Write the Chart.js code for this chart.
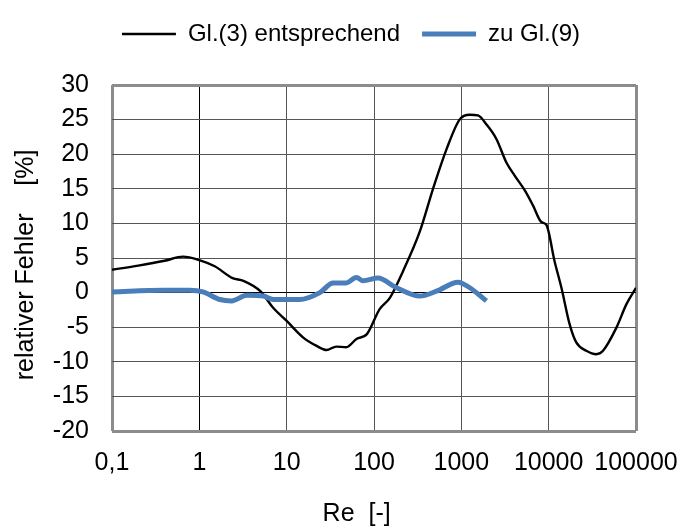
<!DOCTYPE html>
<html>
<head>
<meta charset="utf-8">
<script src="https://cdn.jsdelivr.net/npm/chart.js@4/dist/chart.umd.min.js"></script>
<style>
  body { margin: 0; background: #fff; }
  #wrap { width: 681px; height: 530px; }
</style>
</head>
<body>
<div id="wrap"><canvas id="myChart" width="681" height="530"></canvas></div>
<script>
// Re-Werte und relativer Fehler
const reGl3 = [0.1, 0.2, 0.4, 0.65, 1, 1.5, 2.4, 3.2, 5, 7, 10, 15.5, 22, 28.6, 37, 48, 63, 83, 116, 152, 215, 334, 474, 676, 955, 1250, 1550, 1940, 2520, 3280, 4080, 5310, 6610, 8240, 9400, 11700, 14000, 17400, 20700, 27000, 35100, 41900, 59500, 77500, 100000];
const fehlerGl3 = [3.3, 3.9, 4.6, 5.2, 4.7, 3.8, 2.1, 1.7, 0.2, -2.2, -4.1, -6.5, -7.7, -8.3, -7.8, -7.9, -6.7, -6.0, -2.4, -0.75, 3.1, 8.8, 15.0, 20.7, 25.0, 25.7, 25.6, 24.3, 22.2, 18.8, 16.9, 14.8, 12.6, 10.2, 9.8, 4.5, 0.7, -4.6, -7.2, -8.4, -8.9, -8.4, -5.1, -1.7, 0.7];

const reGl9 = [0.1, 0.39, 0.78, 1.1, 1.72, 2.34, 3.5, 5.4, 7, 10, 14, 24, 34, 48, 63, 75, 111, 181, 334, 519, 916, 1250, 1940];
const fehlerGl9 = [0.1, 0.35, 0.35, 0.1, -1.0, -1.2, -0.4, -0.5, -1.0, -1.0, -1.0, 0, 1.4, 1.4, 2.2, 1.7, 2.1, 0.7, -0.5, 0.2, 1.5, 0.7, -1.2];

const xTicks = [0.1, 1, 10, 100, 1000, 10000, 100000];
const xTickLabels = ['0,1', '1', '10', '100', '1000', '10000', '100000'];
const yMin = -20, yMax = 30, yStep = 5;

const toPoints = (xs, ys) => xs.map((x, i) => ({ x: x, y: ys[i] }));

const gridGrey = '#555555';
const borderGrey = '#8c8c8c';
const schrift = { family: '"Liberation Sans", Arial, sans-serif', size: 25 };

// Legende etwas nach rechts, mehr Abstand zum Diagramm
const legendeVersatz = {
    id: 'legendeVersatz',
    beforeInit: (chart) => {
        const lg = chart.legend;
        if (!lg) return;
        const fit = lg.fit;
        lg.fit = function () {
            fit.call(this);
            this.height += 29;
        };
    },
    afterLayout: (chart) => {
        if (!chart.legend) return;
        chart.legend.left += 33;
        chart.legend.right += 33;
    }
};

const ctx = document.getElementById('myChart').getContext('2d');

const myChart = new Chart(ctx, {
    type: 'line',
    data: {
        datasets: [{
            label: 'Gl.(3) entsprechend',
            data: toPoints(reGl3, fehlerGl3),
            borderColor: '#000000',
            backgroundColor: '#000000',
            borderWidth: 2.4,
            pointRadius: 0,
            cubicInterpolationMode: 'monotone',
            order: 2
        }, {
            label: 'zu Gl.(9)',
            data: toPoints(reGl9, fehlerGl9),
            borderColor: '#4a7ebb',
            backgroundColor: '#4a7ebb',
            borderWidth: 5,
            pointRadius: 0,
            cubicInterpolationMode: 'monotone',
            order: 1
        }]
    },
    plugins: [legendeVersatz],
    options: {
        responsive: false,
        animation: false,
        layout: { padding: { top: 0, right: 45, bottom: 0, left: 0 } },
        plugins: {
            tooltip: { enabled: false },
            legend: {
                position: 'top',
                labels: {
                    usePointStyle: true,
                    pointStyle: 'line',
                    pointStyleWidth: 54,
                    color: '#000',
                    padding: 22,
                    font: { family: schrift.family, size: 24 },
                    sort: (a, b) => a.datasetIndex - b.datasetIndex
                }
            }
        },
        scales: {
            x: {
                type: 'logarithmic',
                min: 0.1,
                max: 100000,
                afterBuildTicks: (scale) => { scale.ticks = xTicks.map(v => ({ value: v })); },
                afterFit: (scale) => {
                    scale.height = 99;
                    scale.paddingLeft = 0;
                    scale.paddingRight = 0;
                },
                ticks: {
                    color: '#000',
                    font: schrift,
                    padding: 17,
                    maxRotation: 0,
                    autoSkip: false,
                    callback: (value) => {
                        const i = xTicks.findIndex(t => Math.abs(Math.log10(t) - Math.log10(value)) < 1e-6);
                        return i >= 0 ? xTickLabels[i] : '';
                    }
                },
                grid: {
                    drawTicks: false,
                    color: (c) => {
                        const v = c.tick && c.tick.value;
                        if (v === 0.1 || v === 100000) return borderGrey;
                        return v === 1 ? '#000' : gridGrey;
                    },
                    lineWidth: (c) => {
                        const v = c.tick && c.tick.value;
                        return (v === 0.1 || v === 100000) ? 3 : 1;
                    }
                },
                border: { display: false },
                title: {
                    display: true,
                    text: 'Re  [-]     ',
                    color: '#000',
                    font: schrift,
                    padding: { top: 0, bottom: 1 }
                }
            },
            y: {
                min: yMin,
                max: yMax,
                afterFit: (scale) => { scale.width = 112; },
                ticks: {
                    stepSize: yStep,
                    color: '#000',
                    font: schrift,
                    padding: 23
                },
                grid: {
                    drawTicks: false,
                    color: (c) => {
                        const v = c.tick && c.tick.value;
                        if (v === yMin || v === yMax) return borderGrey;
                        return v === 0 ? '#000' : gridGrey;
                    },
                    lineWidth: (c) => {
                        const v = c.tick && c.tick.value;
                        return (v === yMin || v === yMax) ? 3 : 1;
                    }
                },
                border: { display: false },
                title: {
                    display: true,
                    text: 'relativer Fehler    [%]  ',
                    color: '#000',
                    font: schrift,
                    padding: { top: 11, bottom: 0 }
                }
            }
        }
    }
});
</script>
</body>
</html>
